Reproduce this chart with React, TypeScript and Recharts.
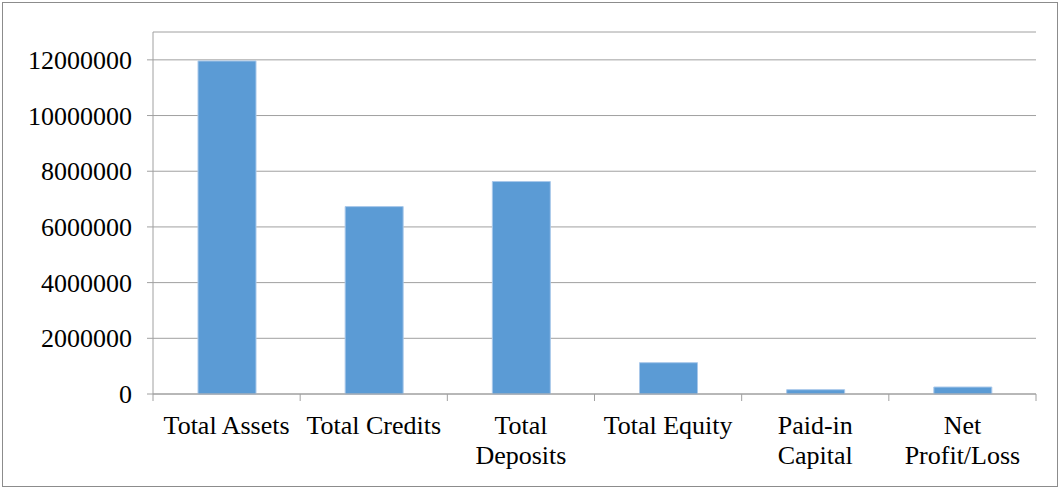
import React from 'react';
import { BarChart, Bar, XAxis, YAxis, CartesianGrid } from 'recharts';

const categories = ['Total Assets', 'Total Credits', 'Total Deposits', 'Total Equity', 'Paid-in Capital', 'Net Profit/Loss'];
const values = [11960000, 6730000, 7630000, 1125000, 155000, 250000];
const yTicks = [0, 2000000, 4000000, 6000000, 8000000, 10000000, 12000000];

const data = categories.map((name, i) => ({ name, value: values[i] }));

const W = 1059;
const H = 488;
const MARGIN = { top: 32, right: 23, left: 0, bottom: 14 };
const Y_W = 153;
const PLOT_W = W - MARGIN.left - MARGIN.right - Y_W;
const BAND = PLOT_W / categories.length;
const FONT = '"Liberation Serif", "Times New Roman", serif';
const FONT_SIZE = 26;
const AXIS_GRAY = '#a0a0a0';

let ctx: CanvasRenderingContext2D | null = null;
function measure(s: string): number {
  if (!ctx) {
    const c = document.createElement('canvas');
    ctx = c.getContext('2d');
  }
  if (!ctx) return s.length * FONT_SIZE * 0.5;
  ctx.font = `${FONT_SIZE}px "Liberation Serif"`;
  return ctx.measureText(s).width;
}

function wrap(label: string, maxW: number): string[] {
  const words = label.split(' ');
  const lines: string[] = [];
  let cur = '';
  for (const w of words) {
    const t = cur ? cur + ' ' + w : w;
    if (cur && measure(t) > maxW) {
      lines.push(cur);
      cur = w;
    } else {
      cur = t;
    }
  }
  if (cur) lines.push(cur);
  return lines;
}

const XTick = (props: any) => {
  const { x, y, payload, index } = props;
  const lines = wrap(String(payload.value), 143);
  return (
    <g>
      <line x1={x - BAND / 2} x2={x - BAND / 2} y1={y} y2={y + 7} stroke={AXIS_GRAY} strokeWidth={1} />
      {index === categories.length - 1 && (
        <line x1={x + BAND / 2} x2={x + BAND / 2} y1={y} y2={y + 7} stroke={AXIS_GRAY} strokeWidth={1} />
      )}
      <text
        x={x}
        y={y + 40}
        textAnchor="middle"
        fill="#000"
        style={{ fontSize: FONT_SIZE, fontFamily: FONT }}
      >
        {lines.map((l, i) => (
          <tspan key={i} x={x} dy={i === 0 ? 0 : 30}>
            {l}
          </tspan>
        ))}
      </text>
    </g>
  );
};

const YTick = (props: any) => {
  const { x, y, payload } = props;
  return (
    <text
      x={x}
      y={y}
      dy={9}
      textAnchor="end"
      fill="#000"
      style={{ fontSize: FONT_SIZE, fontFamily: FONT }}
    >
      {payload.value}
    </text>
  );
};

export default function App() {
  return (
    <div style={{ position: 'absolute', left: 0, top: 0, width: W, height: H, background: '#fff' }}>
      <div
        style={{
          position: 'absolute',
          left: 2,
          top: 2,
          width: 1054,
          height: 483,
          border: '1px solid #8c8c8c',
        }}
      />
      <div style={{ position: 'absolute', left: 0, top: 0 }}>
        <BarChart width={W} height={H} data={data} margin={MARGIN} barSize={58}>
          <CartesianGrid horizontal vertical={false} stroke={AXIS_GRAY} strokeWidth={1} />
          <XAxis
            dataKey="name"
            interval={0}
            tickLine={false}
            tickSize={0}
            tickMargin={0}
            height={80}
            axisLine={{ stroke: AXIS_GRAY, strokeWidth: 1 }}
            tick={<XTick />}
          />
          <YAxis
            width={Y_W}
            domain={[0, 13000000]}
            ticks={yTicks}
            interval={0}
            tickSize={6}
            tickMargin={15}
            axisLine={{ stroke: AXIS_GRAY, strokeWidth: 1 }}
            tickLine={{ stroke: AXIS_GRAY, strokeWidth: 1 }}
            tick={<YTick />}
          />
          <Bar dataKey="value" fill="#5B9BD5" stroke="#a9c8ea" strokeWidth={1} isAnimationActive={false} />
        </BarChart>
      </div>
    </div>
  );
}
